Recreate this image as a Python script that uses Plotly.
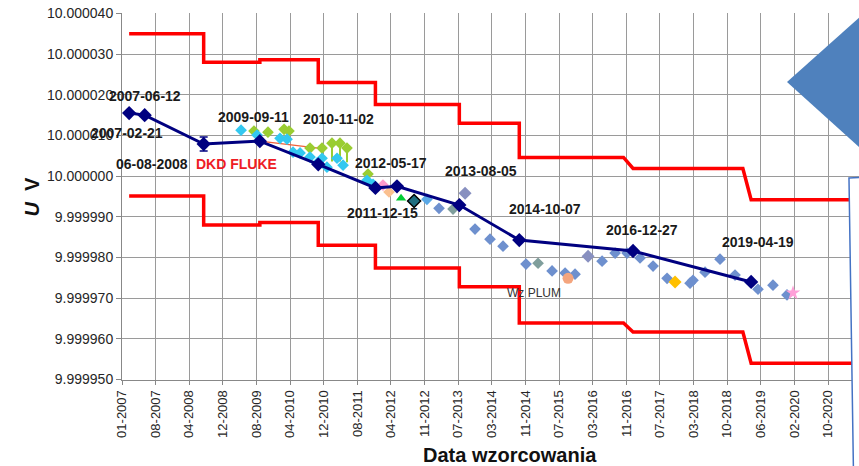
import plotly.graph_objects as go

NOMINAL_V = 10.0
FONT = "Arial, Liberation Sans, sans-serif"

# ---- reference calibrations (navy line), deviation from 10 V in microvolts ----
ref_dates = ["2007-02-21", "2007-06-12", "2008-08-06", "2009-09-11", "2010-11-02",
             "2011-12-15", "2012-05-17", "2013-08-05", "2014-10-07", "2016-12-27",
             "2019-04-19"]
ref_dev_uV = [15.5, 15.0, 7.9, 8.6, 2.9, -2.9, -2.5, -7.1, -15.7, -18.4, -26.0]
ref_err_uV = [0, 0, 1.7, 0, 0, 0, 0, 0, 0, 0, 0]

# ---- tolerance limits (red step lines) ----
limit_dates = ["2007-02-21", "2007-06-12", "2008-08-06", "2008-08-06", "2009-09-11",
               "2009-09-11", "2010-11-02", "2010-11-02", "2011-12-15", "2011-12-15",
               "2013-08-05", "2013-08-05", "2014-10-07", "2014-10-07", "2016-10-20",
               "2016-12-27", "2019-02-19", "2019-04-19", "2021-07-30"]
upper_dev_uV = [35.0, 35.0, 35.0, 28.0, 28.0, 28.6, 28.6, 23.0, 23.0, 17.6,
                17.6, 13.0, 13.0, 4.6, 4.6, 1.9, 1.9, -5.8, -5.8]
lower_dev_uV = [-4.9, -4.9, -4.9, -12.0, -12.0, -11.4, -11.4, -17.0, -17.0, -22.6,
                -22.6, -27.2, -27.2, -36.1, -36.1, -38.3, -38.3, -46.0, -46.0]

# ---- DKD FLUKE thin line ----
fluke_dates = ["2009-09-11", "2010-11-02"]
fluke_dev_uV = [8.6, 6.9]

# ---- in-house comparisons ----
cyan_dates = ["2009-04-30", "2009-08-22", "2010-02-02", "2010-03-24", "2010-05-06",
              "2010-06-25", "2010-09-04", "2010-10-24", "2010-11-29", "2011-01-03",
              "2011-03-16", "2011-04-28", "2011-10-16", "2011-11-28"]
cyan_dev_uV = [11.3, 10.1, 9.3, 9.1, 5.9, 5.7, 4.7, 3.2, 4.4, 2.2, 4.4, 2.7, -1.0, -2.0]

green_dates = ["2009-07-31", "2009-11-08", "2010-03-03", "2010-04-07", "2010-09-04",
               "2010-11-29", "2011-02-08", "2011-04-06", "2011-05-26", "2011-10-23"]
green_dev_uV = [11.1, 10.8, 11.5, 11.1, 6.9, 6.9, 8.1, 8.1, 6.9, 0.5]
green_err_minus = [0, 0, 0, 0, 2.0, 2.0, 4.5, 4.5, 3.5, 0]

steel_dates = ["2013-03-13", "2013-11-25", "2014-03-12", "2014-06-13", "2014-11-24",
               "2015-05-29", "2015-08-30", "2015-11-09", "2016-05-20", "2016-08-21",
               "2016-11-14", "2017-02-15", "2017-05-19", "2017-08-27", "2018-02-07",
               "2018-02-28", "2018-05-25", "2018-09-09", "2018-12-25", "2019-06-07",
               "2019-09-22", "2019-12-31"]
steel_dev_uV = [-7.9, -13.0, -15.5, -17.2, -21.6, -23.3, -23.8, -24.1, -20.9, -18.9,
                -18.9, -20.1, -22.1, -25.1, -26.3, -25.6, -23.6, -20.4, -24.3, -27.8,
                -26.8, -29.2]

grey_dates = ["2013-06-21", "2015-02-18"]
grey_dev_uV = [-8.1, -21.4]
slate_dates = ["2013-09-15", "2016-02-10"]
slate_dev_uV = [-4.2, -19.7]

single_names = ["pink", "peach", "tri", "teal", "lightblue", "orange", "gold", "pinkstar"]
single_dates = ["2012-02-07", "2012-03-21", "2012-06-15", "2012-09-16", "2012-12-17",
                "2015-09-20", "2017-10-23", "2020-02-12"]
single_dev_uV = [-2.2, -3.9, -5.4, -6.1, -5.7, -25.1, -26.0, -28.7]

# ---- labels ----
label_texts = ["2007-06-12", "2007-02-21", "06-08-2008", "2009-09-11", "2010-11-02",
               "2012-05-17", "2011-12-15", "2013-08-05", "2014-10-07", "2016-12-27",
               "2019-04-19"]
label_dates = ["2007-06-14", "2007-02-06", "2007-08-03", "2009-07-31", "2011-03-23",
               "2012-04-04", "2012-01-31", "2014-01-07", "2015-04-09", "2017-03-01",
               "2019-06-07"]
label_dev_uV = [19.7, 10.6, 2.9, 14.5, 14.0, 3.2, -9.1, 1.2, -8.1, -13.3, -16.2]

# ---- axis ticks ----
x_tick_dates = ["2007-01-01", "2007-08-29", "2008-04-25", "2008-12-21", "2009-08-18",
                "2010-04-15", "2010-12-11", "2011-08-08", "2012-04-04", "2012-11-30",
                "2013-07-28", "2014-03-25", "2014-11-20", "2015-07-18", "2016-03-14",
                "2016-11-09", "2017-07-07", "2018-03-04", "2018-10-30", "2019-06-27",
                "2020-02-22", "2020-10-19"]
x_tick_text = ["01-2007", "08-2007", "04-2008", "12-2008", "08-2009", "04-2010",
               "12-2010", "08-2011", "04-2012", "11-2012", "07-2013", "03-2014",
               "11-2014", "07-2015", "03-2016", "11-2016", "07-2017", "03-2018",
               "10-2018", "06-2019", "02-2020", "10-2020"]
y_tick_vals = [9.99995, 9.99996, 9.99997, 9.99998, 9.99999, 10.0, 10.00001,
               10.00002, 10.00003, 10.00004]
y_tick_text = ["9.999950", "9.999960", "9.999970", "9.999980", "9.999990",
               "10.000000", "10.000010", "10.000020", "10.000030", "10.000040"]


def volts(devs):
    return [NOMINAL_V + d * 1e-6 for d in devs]


fig = go.Figure()

for vals in (upper_dev_uV, lower_dev_uV):
    fig.add_trace(go.Scatter(x=limit_dates, y=volts(vals), mode="lines",
                             line=dict(color="#FF0000", width=3.5), hoverinfo="skip"))

fig.add_trace(go.Scatter(x=fluke_dates, y=volts(fluke_dev_uV), mode="lines",
                         line=dict(color="#F0603A", width=1.2)))

fig.add_trace(go.Scatter(x=green_dates, y=volts(green_dev_uV), mode="markers",
                         marker=dict(symbol="diamond", size=9, color="#9ACD32"),
                         error_y=dict(type="data", symmetric=False,
                                      array=[0] * len(green_dates),
                                      arrayminus=[e * 1e-6 for e in green_err_minus],
                                      color="#9ACD32", thickness=2, width=0)))
fig.add_trace(go.Scatter(x=cyan_dates, y=volts(cyan_dev_uV), mode="markers",
                         marker=dict(symbol="diamond", size=9, color="#33C8F0")))
fig.add_trace(go.Scatter(x=steel_dates, y=volts(steel_dev_uV), mode="markers",
                         marker=dict(symbol="diamond", size=9, color="#6E90CE")))
fig.add_trace(go.Scatter(x=grey_dates, y=volts(grey_dev_uV), mode="markers",
                         marker=dict(symbol="diamond", size=9, color="#7F9E9C")))
fig.add_trace(go.Scatter(x=slate_dates, y=volts(slate_dev_uV), mode="markers",
                         marker=dict(symbol="diamond", size=10, color="#8890C0")))

single_style = {
    "pink": dict(symbol="diamond", size=9, color="#FF99CC"),
    "peach": dict(symbol="diamond", size=9, color="#FAC090"),
    "tri": dict(symbol="triangle-up", size=9, color="#00CC33"),
    "teal": dict(symbol="diamond", size=10, color="#1F6E80", line=dict(color="#000000", width=1.5)),
    "lightblue": dict(symbol="diamond", size=9, color="#5AA8E6"),
    "orange": dict(symbol="circle", size=11, color="#F4A57E"),
    "gold": dict(symbol="diamond", size=10, color="#FFC000"),
    "pinkstar": dict(symbol="star", size=11, color="#FFA0D8"),
}
for name, d, val in zip(single_names, single_dates, single_dev_uV):
    fig.add_trace(go.Scatter(x=[d], y=volts([val]), mode="markers",
                             marker=single_style[name]))

fig.add_trace(go.Scatter(x=ref_dates, y=volts(ref_dev_uV), mode="lines+markers",
                         line=dict(color="#000080", width=3),
                         marker=dict(symbol="diamond", size=11, color="#000080"),
                         error_y=dict(type="data", array=[e * 1e-6 for e in ref_err_uV],
                                      color="#000080", thickness=1.5, width=4)))

annotations = []
for t, d, val in zip(label_texts, label_dates, label_dev_uV):
    annotations.append(dict(x=d, y=NOMINAL_V + val * 1e-6, xref="x", yref="y",
                            text="<b>%s</b>" % t, showarrow=False,
                            font=dict(family=FONT, size=14, color="#1a1a1a")))
annotations.append(dict(x="2009-03-31", y=NOMINAL_V + 2.9e-6, xref="x", yref="y",
                        text="<b>DKD FLUKE</b>", showarrow=False,
                        font=dict(family=FONT, size=14, color="#EE1C25")))
annotations.append(dict(x="2015-01-20", y=NOMINAL_V - 28.7e-6, xref="x", yref="y",
                        text="Wz PLUM", showarrow=False,
                        font=dict(family=FONT, size=12, color="#333333")))
annotations.append(dict(x=(510 - 122) / 737, y=(380 - 455) / 367, xref="paper", yref="paper",
                        xanchor="center", yanchor="middle",
                        text="<b>Data wzorcowania</b>", showarrow=False,
                        font=dict(family=FONT, size=20, color="#111111")))
annotations.append(dict(x=(31 - 122) / 737, y=0.5, xref="paper", yref="paper",
                        xanchor="center", yanchor="middle",
                        text="<b><i>U</i>  V</b>", showarrow=False, textangle=-90,
                        font=dict(family=FONT, size=20, color="#111111")))

shapes = [
    dict(type="path", xref="paper", yref="paper",
         path="M 0.9864,0.5504 L 1.06,0.556 L 1.06,-0.25 L 0.9925,-0.25 Z",
         fillcolor="#FFFFFF", line=dict(color="#4472C4", width=1.5), layer="above"),
    dict(type="path", xref="paper", yref="paper",
         path="M 0.9023,0.812 L 1.01,1.005 L 1.01,0.617 Z",
         fillcolor="#4F81BD", line=dict(color="#4F81BD", width=0), layer="above"),
]

fig.update_layout(
    width=859, height=466,
    margin=dict(l=122, r=0, t=13, b=86),
    paper_bgcolor="#FFFFFF", plot_bgcolor="#FFFFFF",
    showlegend=False,
    font=dict(family=FONT, size=14, color="#333333"),
    annotations=annotations,
    shapes=shapes,
    xaxis=dict(type="date", range=["2007-01-01", "2021-05-28"],
               tickmode="array", tickvals=x_tick_dates, ticktext=x_tick_text,
               tickangle=-90, tickfont=dict(family=FONT, size=13, color="#262626"),
               showgrid=True, gridcolor="#9A9A9A", gridwidth=1,
               showline=True, linecolor="#888888", linewidth=1,
               ticks="outside", ticklen=4, tickcolor="#888888", zeroline=False),
    yaxis=dict(range=[9.9999499, 10.0000401],
               tickmode="array", tickvals=y_tick_vals, ticktext=y_tick_text,
               tickfont=dict(family=FONT, size=14, color="#262626"),
               showgrid=True, gridcolor="#9A9A9A", gridwidth=1,
               showline=True, linecolor="#888888", linewidth=1,
               ticks="outside", ticklen=5, tickcolor="#888888", zeroline=False),
)

fig.write_html("out.html", config={"displayModeBar": False},
               post_script="document.body.style.margin='0';document.body.style.overflow='hidden';")
